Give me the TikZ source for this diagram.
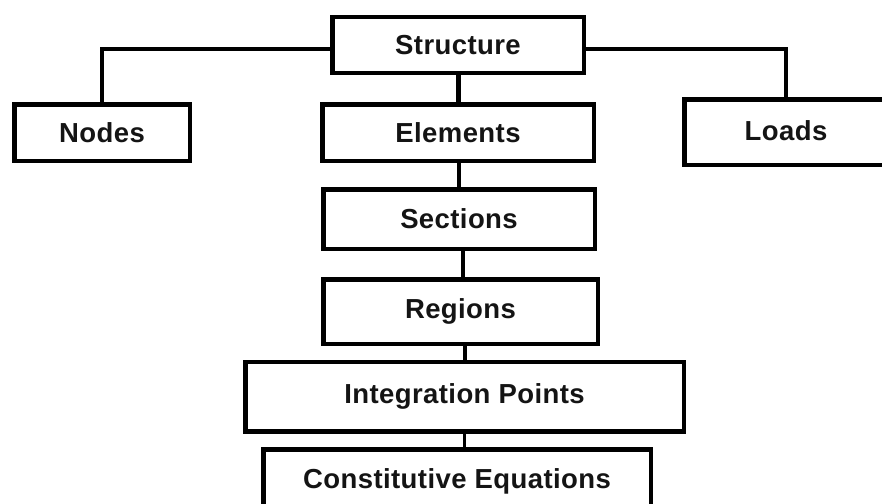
\documentclass[tikz,border=0pt]{standalone}
\usepackage{fontspec}
\newfontfamily\lblfont[LetterSpace=1.5]{Liberation Sans}
\begin{document}
\begin{tikzpicture}[x=1pt,y=-1pt,
  box/.style={draw=black,line width=4.5pt,fill=white,inner sep=0pt,
    font=\lblfont\bfseries\fontsize{27.5}{32}\selectfont,text=black!92},
  link/.style={draw=black,line width=3.4pt},
  heavylink/.style={draw=black,line width=5pt}]
\clip (0,0) rectangle (882,503);
\fill[white] (0,0) rectangle (882,503);

% hierarchy boxes (outer size minus line width)
\node[box,minimum width=251.5pt,minimum height=55.5pt] (S)   at (458,45)    {Structure};
\node[box,minimum width=175.5pt,minimum height=56.5pt] (N)   at (102,132.5) {Nodes};
\node[box,minimum width=271.5pt,minimum height=56.5pt] (E)   at (458,132.5) {Elements};
\node[box,minimum width=203.5pt,minimum height=65.5pt] (L)   at (786,132)   {\raisebox{3pt}{Loads}};
\node[box,minimum width=271.5pt,minimum height=59.5pt] (Sec) at (459,219)   {Sections};
\node[box,minimum width=274.5pt,minimum height=64.5pt] (R)   at (460.5,311.5) {Regions};
\node[box,minimum width=438.5pt,minimum height=69.5pt] (I)   at (464.5,396.5) {\raisebox{3pt}{Integration Points}};
\node[box,minimum width=387.5pt,minimum height=64.5pt] (C)   at (457,481.5) {Constitutive Equations};

% connectors
\draw[link] ([yshift=-4pt]S.west) -| (N.north);
\draw[link] ([yshift=-4pt]S.east) -| (L.north);
\draw[heavylink] (S.south) -- (E.north);
\draw[link] (Sec.north) -- (Sec.north |- E.south);
\draw[link] ([xshift=4pt]Sec.south) -- ([xshift=4pt]Sec.south |- R.north);
\draw[link] ([xshift=4.5pt]R.south) -- ([xshift=4.5pt]R.south |- I.north);
\draw[link] (I.south) -- (I.south |- C.north);
\end{tikzpicture}
\end{document}
